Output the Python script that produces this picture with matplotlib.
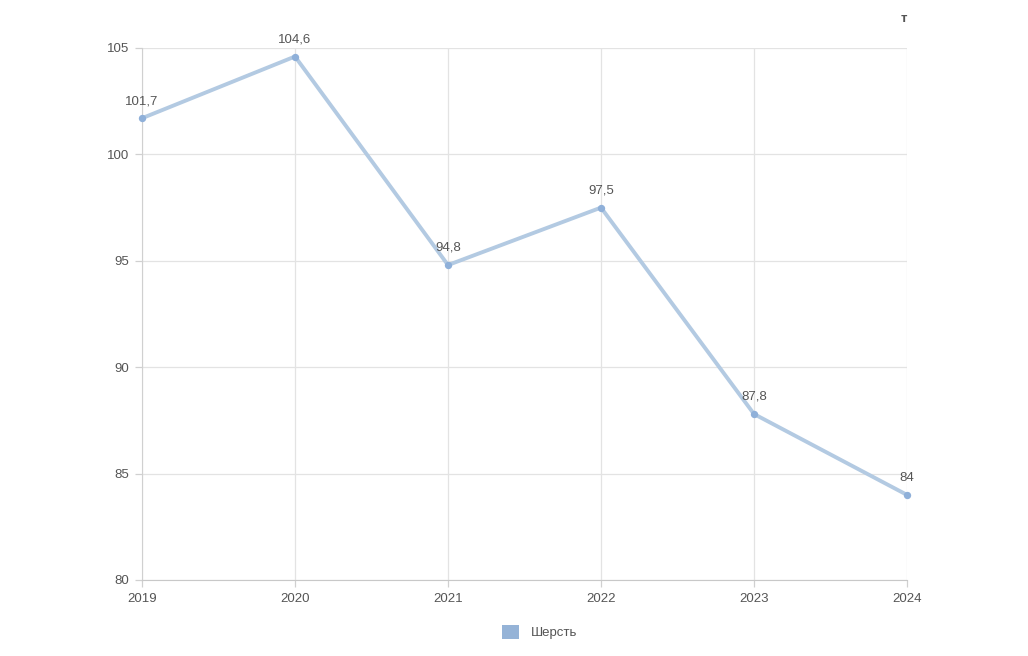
import matplotlib
matplotlib.use("Agg")
import matplotlib.pyplot as plt
from matplotlib.patches import Patch

plt.rcParams['font.family'] = ['Liberation Sans', 'DejaVu Sans']

# données
annees = ["2019", "2020", "2021", "2022", "2023", "2024"]
valeurs = [101.7, 104.6, 94.8, 97.5, 87.8, 84.0]
etiquettes = ["101,7", "104,6", "94,8", "97,5", "87,8", "84"]
yticks = [80, 85, 90, 95, 100, 105]
nom_serie = "Шерсть"
unite = "т"

couleur_ligne = "#b3cae2"
couleur_point = "#8fb0d9"
couleur_texte = "#555555"
couleur_grille = "#e3e3e3"

fig = plt.figure(figsize=(10.28, 6.56), dpi=100)
ax = fig.add_axes([142 / 1028, 76 / 656, 765 / 1028, 532 / 656])

x = list(range(len(annees)))
ax.plot(x, valeurs, color=couleur_ligne, lw=2.8, zorder=3,
        solid_joinstyle="round", clip_on=False)
ax.scatter(x, valeurs, s=28, color=couleur_point, zorder=4, linewidths=0, clip_on=False)

for xi, v, lab in zip(x, valeurs, etiquettes):
    ax.annotate(lab, (xi, v), xytext=(0, 8), textcoords="offset points",
                ha="center", va="bottom", fontsize=9.5, color=couleur_texte)

ax.set_xlim(0, len(annees) - 1)
ax.set_ylim(80, 105)
ax.set_xticks(x)
ax.set_xticklabels(annees)
ax.set_yticks(yticks)
ax.set_yticklabels([str(t) for t in yticks])

ax.grid(True, color=couleur_grille, lw=0.9)
ax.set_axisbelow(True)
for s in ["top", "right"]:
    ax.spines[s].set_visible(False)
ax.spines["left"].set_color("#d0d0d0")
ax.spines["bottom"].set_color("#c8c8c8")
ax.tick_params(axis="both", colors="#d0d0d0", labelcolor=couleur_texte,
               labelsize=9.5, length=5, width=0.9)
ax.tick_params(axis="x", pad=4)
ax.tick_params(axis="y", pad=4)

fig.text(904 / 1028, 1 - 19 / 656, unite, ha="center", va="center",
         fontsize=9.5, color=couleur_texte, fontweight="bold")

leg = fig.legend(handles=[Patch(facecolor="#95b3d7", edgecolor="none", label=nom_serie)],
                 loc="center", bbox_to_anchor=(540 / 1028, 1 - 632 / 656),
                 frameon=False, fontsize=9.5, handlelength=1.3, handleheight=1.3,
                 handletextpad=0.9)
for t in leg.get_texts():
    t.set_color(couleur_texte)

fig.savefig("out.png", dpi=100, facecolor="white")
